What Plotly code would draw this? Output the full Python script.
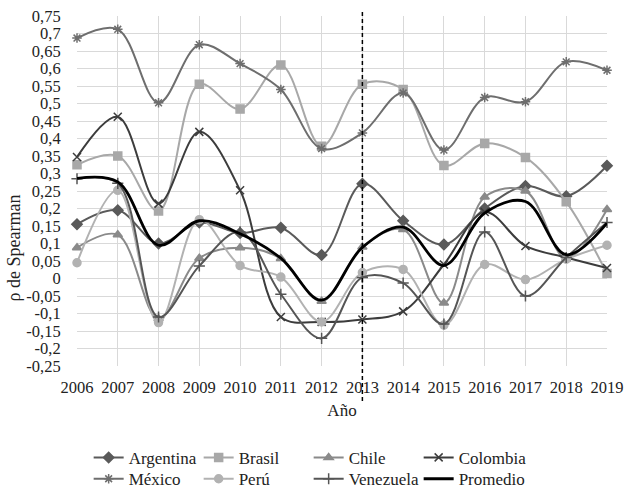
import plotly.graph_objects as go

# Años y coeficientes de correlación de Spearman por país
years = list(range(2006, 2020))

argentina = [0.155, 0.195, 0.100, 0.160, 0.130, 0.145, 0.067, 0.271, 0.165, 0.097, 0.200, 0.264, 0.235, 0.322]
brasil    = [0.325, 0.350, 0.193, 0.555, 0.484, 0.610, 0.378, 0.555, 0.540, 0.323, 0.386, 0.346, 0.219, 0.014]
chile     = [0.088, 0.125, -0.115, 0.058, 0.088, 0.057, -0.065, 0.090, 0.140, -0.070, 0.233, 0.250, 0.058, 0.197]
colombia  = [0.347, 0.462, 0.214, 0.419, 0.252, -0.110, -0.124, -0.117, -0.094, 0.040, 0.190, 0.093, 0.060, 0.030]
mexico    = [0.687, 0.712, 0.502, 0.668, 0.614, 0.540, 0.371, 0.416, 0.530, 0.367, 0.517, 0.505, 0.619, 0.595]
peru      = [0.045, 0.252, -0.126, 0.168, 0.037, 0.004, -0.124, 0.017, 0.026, -0.133, 0.040, -0.003, 0.055, 0.095]
venezuela = [0.285, 0.272, -0.110, 0.036, 0.133, -0.045, -0.171, 0.003, -0.013, -0.130, 0.133, -0.050, 0.060, 0.160]
promedio  = [0.286, 0.276, 0.095, 0.165, 0.128, 0.058, -0.062, 0.089, 0.147, 0.037, 0.187, 0.220, 0.068, 0.158]

# Marcas del eje vertical (formato con coma decimal)
y_ticks = [round(-0.25 + 0.05 * i, 2) for i in range(21)]
y_ticktext = [f"{v:g}".replace(".", ",") for v in y_ticks]

FONT = "Liberation Serif"
TXT = "#222222"

series = [
    ("Argentina", argentina, "#5a5a5a", "diamond", 8, "legend"),
    ("Brasil", brasil, "#a8a8a8", "square", 8, "legend"),
    ("Chile", chile, "#8a8a8a", "triangle-up", 8, "legend"),
    ("Colombia", colombia, "#3c3c3c", "x-thin-open", 8, "legend"),
    ("México", mexico, "#6e6e6e", "asterisk-open", 8, "legend2"),
    ("Perú", peru, "#b2b2b2", "circle", 8, "legend2"),
    ("Venezuela", venezuela, "#555555", "cross-thin-open", 8, "legend2"),
]

fig = go.Figure()
for name, vals, color, symbol, size, leg in series:
    fig.add_trace(go.Scatter(
        x=years, y=vals, name=name, mode="lines+markers",
        line=dict(color=color, width=2, shape="spline", smoothing=1.0),
        marker=dict(symbol=symbol, size=size, color=color,
                    line=dict(color=color, width=1.5)),
        cliponaxis=False, legend=leg,
    ))

fig.add_trace(go.Scatter(
    x=years, y=promedio, name="Promedio", mode="lines",
    line=dict(color="#000000", width=2.8, shape="spline", smoothing=1.0),
    cliponaxis=False, legend="legend2",
))

# Línea de referencia vertical en 2013
fig.add_shape(type="line", xref="x", yref="paper", x0=2013, x1=2013,
              y0=-0.1, y1=1.012,
              line=dict(color="#000000", width=1.5, dash="4px,3px"))

fig.add_annotation(text="ρ de Spearman", xref="paper", yref="paper",
                   x=-0.118, y=0.337, xanchor="center", yanchor="middle",
                   textangle=-90, showarrow=False,
                   font=dict(family=FONT, size=18, color=TXT))

legend_common = dict(orientation="h", xanchor="left", yanchor="top",
                     entrywidth=65, entrywidthmode="pixels",
                     font=dict(family=FONT, size=17, color=TXT),
                     bgcolor="rgba(0,0,0,0)", tracegroupgap=0)

fig.update_layout(
    width=624, height=489,
    margin=dict(l=77, r=17, t=16, b=123, autoexpand=False),
    paper_bgcolor="white", plot_bgcolor="white",
    font=dict(family=FONT, size=16, color=TXT),
    xaxis=dict(range=[2006, 2019], tickmode="array", tickvals=years,
               ticktext=[str(y) for y in years],
               showgrid=True, gridcolor="#d9d9d9", gridwidth=1,
               zeroline=False, showline=False,
               ticks="outside", ticklen=6, tickcolor="rgba(0,0,0,0)",
               tickfont=dict(family=FONT, size=16.5, color=TXT),
               title=dict(text="Año", font=dict(family=FONT, size=17, color=TXT),
                          standoff=8)),
    yaxis=dict(range=[-0.25, 0.75], tickmode="array", tickvals=y_ticks,
               ticktext=y_ticktext,
               showgrid=True, gridcolor="#d9d9d9", gridwidth=1,
               zeroline=False, showline=False,
               ticks="outside", ticklen=12, tickcolor="rgba(0,0,0,0)",
               tickfont=dict(family=FONT, size=16.5, color=TXT)),
    legend=dict(x=0.022, y=-0.211, **legend_common),
    legend2=dict(x=0.022, y=-0.272, **legend_common),
    showlegend=True,
)

fig.write_html("out.html")
